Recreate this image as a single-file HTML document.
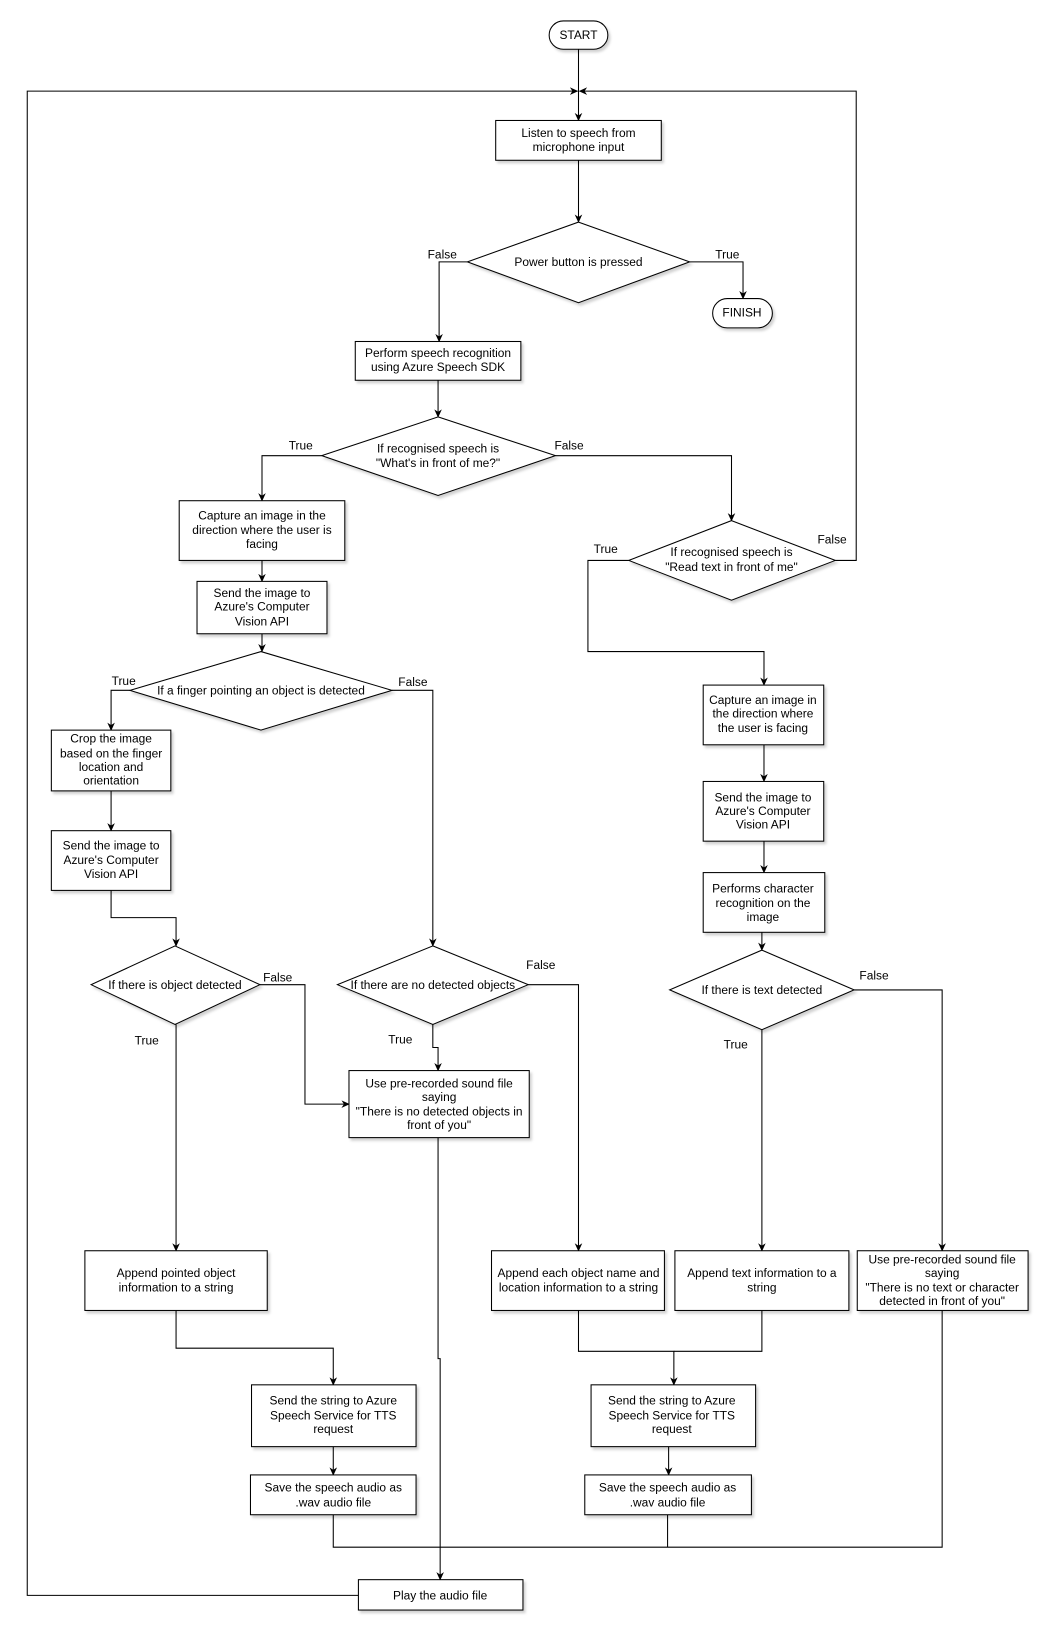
<!DOCTYPE html>
<html><head><meta charset="utf-8"><style>
html,body{margin:0;padding:0;background:#fff;}
svg{display:block;}
text{font-family:"Liberation Sans",Arial,sans-serif;font-size:11.4px;fill:#000;text-anchor:middle;}
.b{fill:#fff;stroke:#000;stroke-width:1;filter:url(#sh);}
.l{fill:none;stroke:#000;stroke-width:1;}
</style></head><body>
<svg width="1059" height="1642" viewBox="0 0 1010.5 1567.5" preserveAspectRatio="none" xmlns="http://www.w3.org/2000/svg">
<defs>
<filter id="sh" x="-10%" y="-10%" width="130%" height="140%"><feDropShadow dx="2" dy="2.5" stdDeviation="1.2" flood-color="#000" flood-opacity="0.18"/></filter>
<marker id="a" viewBox="0 0 10 10" refX="9" refY="5" markerWidth="8" markerHeight="8" orient="auto"><path d="M0,0.5 L10,5 L0,9.5 L3,5 z" fill="#000"/></marker>
</defs>
<g class="l" marker-end="url(#a)">
<path d="M552,47 V115"/>
<path d="M342,1523 H26 V87 H551"/>
<path d="M797,535 H817 V87 H553"/>
<path d="M552,153 V212"/>
<path d="M446,250 H419 V326"/>
<path d="M658,250 H709 V285"/>
<path d="M418,363 V398"/>
<path d="M307,435 H250 V478"/>
<path d="M530,435 H698 V497"/>
<path d="M250,535 V555"/>
<path d="M250,605 V622"/>
<path d="M124,659 H106 V697"/>
<path d="M374,659 H413 V903"/>
<path d="M106,755 V793"/>
<path d="M106,850 V876 H168 V903"/>
<path d="M248,940 H291 V1054 H333"/>
<path d="M168,978 V1194"/>
<path d="M413,978 V1000 H418 V1022"/>
<path d="M504,940 H552 V1194"/>
<path d="M418,1086 V1297 H420 V1508"/>
<path d="M168,1251 V1287 H318 V1322"/>
<path d="M318,1381 V1408"/>
<path d="M552,1251 V1290 H643 V1322"/>
<path d="M638,1381 V1408"/>
<path d="M600,535 H561 V622 H729 V654"/>
<path d="M729,711 V746"/>
<path d="M729,803 V833"/>
<path d="M727,890 V907"/>
<path d="M727,983 V1194"/>
<path d="M815,945 H899 V1194"/>
</g>
<g class="l">
<path d="M727,1251 V1290 H643"/>
<path d="M318,1446 V1477 H899 V1251"/>
<path d="M637,1446 V1477"/>
</g>
<rect class="b" x="524" y="20" width="56" height="27" rx="13.5"/>
<rect class="b" x="680" y="285" width="57" height="28" rx="14"/>
<rect class="b" x="473" y="115" width="158" height="38"/>
<polygon class="b" points="552,212 658,250 552,289 446,250"/>
<rect class="b" x="339" y="326" width="158" height="37"/>
<polygon class="b" points="418,398 530,435 418,473 307,435"/>
<rect class="b" x="171" y="478" width="158" height="57"/>
<rect class="b" x="188" y="555" width="124" height="50"/>
<polygon class="b" points="249,622 374,659 249,697 124,659"/>
<rect class="b" x="49" y="697" width="114" height="58"/>
<rect class="b" x="49" y="793" width="114" height="57"/>
<polygon class="b" points="167,903 248,940 167,978 87,940"/>
<polygon class="b" points="413,903 504,940 413,978 322,940"/>
<rect class="b" x="333" y="1022" width="172" height="64"/>
<rect class="b" x="81" y="1194" width="174" height="57"/>
<rect class="b" x="240" y="1322" width="157" height="59"/>
<rect class="b" x="239" y="1408" width="158" height="38"/>
<rect class="b" x="469" y="1194" width="165" height="57"/>
<rect class="b" x="644" y="1194" width="166" height="57"/>
<rect class="b" x="818" y="1194" width="163" height="57"/>
<rect class="b" x="564" y="1322" width="157" height="59"/>
<rect class="b" x="558" y="1408" width="159" height="38"/>
<rect class="b" x="342" y="1508" width="157" height="29"/>
<polygon class="b" points="698,497 797,535 698,573 600,535"/>
<rect class="b" x="671" y="654" width="115" height="57"/>
<rect class="b" x="671" y="746" width="115" height="57"/>
<rect class="b" x="671" y="833" width="116" height="57"/>
<polygon class="b" points="727,907 815,945 727,983 639,945"/>
<text x="552" y="37">START</text>
<text x="708" y="302">FINISH</text>
<text x="552" y="131">Listen to speech from</text><text x="552" y="144">microphone input</text>
<text x="552" y="254">Power button is pressed</text>
<text x="418" y="341">Perform speech recognition</text><text x="418" y="354">using Azure Speech SDK</text>
<text x="418" y="432">If recognised speech is</text><text x="418" y="446">"What's in front of me?"</text>
<text x="250" y="496">Capture an image in the</text><text x="250" y="510">direction where the user is</text><text x="250" y="523">facing</text>
<text x="250" y="570">Send the image to</text><text x="250" y="583">Azure's Computer</text><text x="250" y="597">Vision API</text>
<text x="249" y="663">If a finger pointing an object is detected</text>
<text x="106" y="709">Crop the image</text><text x="106" y="723">based on the finger</text><text x="106" y="736">location and</text><text x="106" y="749">orientation</text>
<text x="106" y="811">Send the image to</text><text x="106" y="825">Azure's Computer</text><text x="106" y="838">Vision API</text>
<text x="167" y="944">If there is object detected</text>
<text x="413" y="944">If there are no detected objects</text>
<text x="419" y="1038">Use pre-recorded sound file</text><text x="419" y="1051">saying</text><text x="419" y="1065">"There is no detected objects in</text><text x="419" y="1078">front of you"</text>
<text x="168" y="1219">Append pointed object</text><text x="168" y="1233">information to a string</text>
<text x="318" y="1341">Send the string to Azure</text><text x="318" y="1355">Speech Service for TTS</text><text x="318" y="1368">request</text>
<text x="318" y="1424">Save the speech audio as</text><text x="318" y="1438">.wav audio file</text>
<text x="552" y="1219">Append each object name and</text><text x="552" y="1233">location information to a string</text>
<text x="727" y="1219">Append text information to a</text><text x="727" y="1233">string</text>
<text x="899" y="1206">Use pre-recorded sound file</text><text x="899" y="1219">saying</text><text x="899" y="1233">"There is no text or character</text><text x="899" y="1246">detected in front of you"</text>
<text x="641" y="1341">Send the string to Azure</text><text x="641" y="1355">Speech Service for TTS</text><text x="641" y="1368">request</text>
<text x="637" y="1424">Save the speech audio as</text><text x="637" y="1438">.wav audio file</text>
<text x="420" y="1527">Play the audio file</text>
<text x="698" y="531">If recognised speech is</text><text x="698" y="545">"Read text in front of me"</text>
<text x="728" y="672">Capture an image in</text><text x="728" y="685">the direction where</text><text x="728" y="699">the user is facing</text>
<text x="728" y="765">Send the image to</text><text x="728" y="778">Azure's Computer</text><text x="728" y="791">Vision API</text>
<text x="728" y="852">Performs character</text><text x="728" y="866">recognition on the</text><text x="728" y="879">image</text>
<text x="727" y="949">If there is text detected</text>
<text x="422" y="247">False</text><text x="694" y="247">True</text>
<text x="287" y="429">True</text><text x="543" y="429">False</text>
<text x="578" y="528">True</text><text x="794" y="519">False</text>
<text x="118" y="654">True</text><text x="394" y="655">False</text>
<text x="265" y="937">False</text><text x="140" y="997">True</text>
<text x="516" y="925">False</text><text x="382" y="996">True</text>
<text x="834" y="935">False</text><text x="702" y="1001">True</text>
</svg>
</body></html>
